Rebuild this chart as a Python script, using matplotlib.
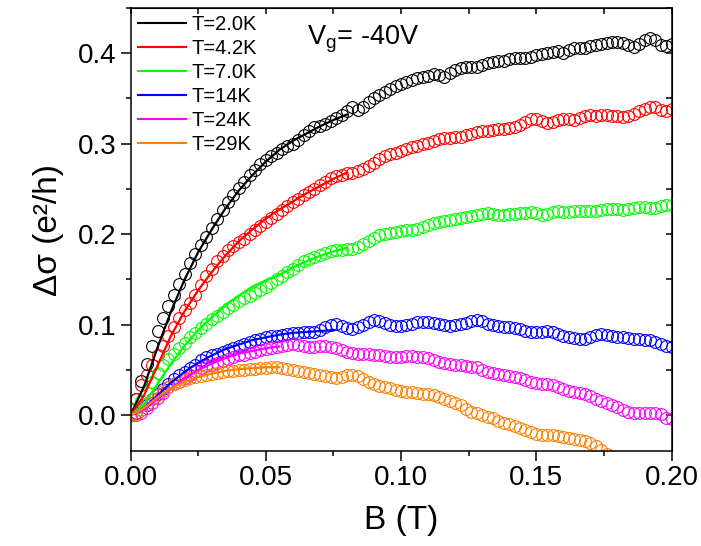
import numpy as np
import matplotlib
matplotlib.use('Agg')
import matplotlib.pyplot as plt
from matplotlib.lines import Line2D
from matplotlib.ticker import MultipleLocator, FormatStrFormatter

plt.rcParams['font.family'] = ['Liberation Sans', 'DejaVu Sans']
plt.rcParams['mathtext.default'] = 'regular'

# field grid of the measured points (T), step 0.002
B = np.round(np.arange(0, 0.2001, 0.002), 3)

labels = ['T=2.0K', 'T=4.2K', 'T=7.0K', 'T=14K', 'T=24K', 'T=29K']
colors = ['#000000', '#FF0000', '#00FF00', '#0000FF', '#FF00FF', '#FF8000']

# measured delta sigma (e^2/h)
d_2K = [0.000, 0.018, 0.038, 0.057, 0.076, 0.093, 0.107, 0.121, 0.133, 0.145,
        0.156, 0.168, 0.178, 0.188, 0.197, 0.207, 0.217, 0.227, 0.236, 0.243,
        0.251, 0.258, 0.265, 0.271, 0.277, 0.282, 0.286, 0.290, 0.294, 0.297,
        0.300, 0.304, 0.309, 0.314, 0.318, 0.319, 0.322, 0.325, 0.328, 0.332,
        0.336, 0.340, 0.337, 0.340, 0.346, 0.350, 0.354, 0.357, 0.360, 0.363,
        0.366, 0.368, 0.370, 0.372, 0.374, 0.375, 0.377, 0.376, 0.374, 0.378,
        0.381, 0.383, 0.384, 0.385, 0.384, 0.387, 0.389, 0.390, 0.391, 0.391,
        0.393, 0.394, 0.395, 0.394, 0.396, 0.398, 0.399, 0.400, 0.401, 0.402,
        0.400, 0.403, 0.405, 0.406, 0.406, 0.408, 0.409, 0.410, 0.411, 0.412,
        0.412, 0.411, 0.409, 0.407, 0.410, 0.414, 0.417, 0.414, 0.409, 0.408,
        0.410]
d_4K = [0.000, 0.018, 0.033, 0.044, 0.056, 0.067, 0.077, 0.088, 0.098, 0.107,
        0.116, 0.124, 0.133, 0.144, 0.154, 0.162, 0.170, 0.176, 0.182, 0.187,
        0.191, 0.195, 0.200, 0.204, 0.209, 0.213, 0.218, 0.222, 0.227, 0.231,
        0.235, 0.239, 0.243, 0.246, 0.250, 0.254, 0.258, 0.262, 0.264, 0.265,
        0.267, 0.268, 0.270, 0.272, 0.275, 0.279, 0.283, 0.286, 0.288, 0.290,
        0.292, 0.294, 0.296, 0.297, 0.299, 0.301, 0.303, 0.305, 0.306, 0.306,
        0.307, 0.307, 0.309, 0.311, 0.313, 0.314, 0.314, 0.315, 0.316, 0.316,
        0.317, 0.318, 0.320, 0.324, 0.327, 0.327, 0.325, 0.323, 0.324, 0.326,
        0.327, 0.327, 0.326, 0.328, 0.330, 0.331, 0.330, 0.331, 0.331, 0.330,
        0.330, 0.329, 0.330, 0.333, 0.336, 0.338, 0.340, 0.340, 0.337, 0.336,
        0.338]
d_7K = [0.000, 0.008, 0.016, 0.025, 0.037, 0.047, 0.055, 0.062, 0.068, 0.074,
        0.080, 0.086, 0.091, 0.096, 0.101, 0.106, 0.110, 0.114, 0.118, 0.122,
        0.126, 0.129, 0.132, 0.135, 0.138, 0.142, 0.146, 0.150, 0.154, 0.158,
        0.162, 0.166, 0.170, 0.172, 0.175, 0.177, 0.179, 0.181, 0.182, 0.183,
        0.184, 0.184, 0.186, 0.189, 0.192, 0.196, 0.199, 0.200, 0.201, 0.202,
        0.203, 0.204, 0.205, 0.206, 0.208, 0.210, 0.212, 0.213, 0.215, 0.216,
        0.217, 0.218, 0.219, 0.220, 0.221, 0.222, 0.223, 0.222, 0.221, 0.221,
        0.222, 0.222, 0.223, 0.223, 0.224, 0.223, 0.221, 0.222, 0.224, 0.225,
        0.224, 0.224, 0.225, 0.226, 0.226, 0.225, 0.226, 0.227, 0.228, 0.228,
        0.228, 0.227, 0.228, 0.229, 0.230, 0.230, 0.229, 0.229, 0.231, 0.232,
        0.232]
d_14K = [0.000, 0.002, 0.006, 0.011, 0.018, 0.024, 0.029, 0.035, 0.040, 0.044,
         0.048, 0.052, 0.056, 0.061, 0.064, 0.066, 0.068, 0.070, 0.072, 0.074,
         0.076, 0.079, 0.081, 0.083, 0.084, 0.086, 0.087, 0.088, 0.089, 0.090,
         0.091, 0.091, 0.092, 0.092, 0.092, 0.094, 0.097, 0.100, 0.101, 0.099,
         0.096, 0.095, 0.097, 0.100, 0.103, 0.105, 0.104, 0.102, 0.100, 0.099,
         0.099, 0.100, 0.101, 0.103, 0.103, 0.103, 0.102, 0.101, 0.100, 0.099,
         0.100, 0.101, 0.102, 0.104, 0.105, 0.104, 0.101, 0.100, 0.099, 0.098,
         0.097, 0.096, 0.095, 0.093, 0.092, 0.092, 0.092, 0.093, 0.092, 0.090,
         0.088, 0.086, 0.085, 0.084, 0.084, 0.086, 0.089, 0.090, 0.089, 0.087,
         0.086, 0.086, 0.085, 0.084, 0.084, 0.083, 0.083, 0.081, 0.079, 0.076,
         0.075]
d_24K = [0.000, 0.000, 0.003, 0.008, 0.013, 0.019, 0.025, 0.031, 0.035, 0.037,
         0.041, 0.045, 0.049, 0.052, 0.054, 0.056, 0.058, 0.060, 0.062, 0.064,
         0.066, 0.067, 0.069, 0.070, 0.072, 0.073, 0.074, 0.075, 0.077, 0.078,
         0.079, 0.078, 0.076, 0.075, 0.075, 0.076, 0.076, 0.075, 0.074, 0.072,
         0.070, 0.069, 0.068, 0.068, 0.068, 0.067, 0.066, 0.065, 0.064, 0.064,
         0.064, 0.065, 0.065, 0.064, 0.064, 0.063, 0.061, 0.059, 0.058, 0.057,
         0.056, 0.055, 0.054, 0.053, 0.053, 0.050, 0.048, 0.047, 0.046, 0.044,
         0.043, 0.042, 0.041, 0.039, 0.037, 0.036, 0.035, 0.034, 0.033, 0.031,
         0.029, 0.027, 0.026, 0.025, 0.024, 0.021, 0.018, 0.016, 0.013, 0.011,
         0.009, 0.006, 0.004, 0.003, 0.003, 0.003, 0.002, 0.002, 0.001, -0.003,
         -0.004]
d_29K = [0.000, 0.001, 0.006, 0.012, 0.018, 0.022, 0.027, 0.031, 0.034, 0.037,
         0.039, 0.041, 0.042, 0.043, 0.045, 0.046, 0.047, 0.048, 0.049, 0.049,
         0.050, 0.050, 0.051, 0.051, 0.052, 0.052, 0.053, 0.053, 0.052, 0.051,
         0.050, 0.049, 0.048, 0.047, 0.046, 0.045, 0.043, 0.042, 0.041, 0.042,
         0.044, 0.044, 0.043, 0.040, 0.037, 0.035, 0.032, 0.031, 0.030, 0.028,
         0.027, 0.026, 0.026, 0.025, 0.024, 0.024, 0.022, 0.020, 0.018, 0.016,
         0.014, 0.011, 0.007, 0.004, 0.002, 0.000, -0.002, -0.003, -0.006, -0.008,
         -0.010, -0.012, -0.014, -0.016, -0.019, -0.021, -0.022, -0.022, -0.022, -0.023,
         -0.024, -0.025, -0.026, -0.027, -0.028, -0.031, -0.034, -0.038, -0.043]

# fitted curves
B_fit = [0, 0.005, 0.01, 0.015, 0.02, 0.025, 0.03, 0.035, 0.04,
         0.045, 0.05, 0.055, 0.06, 0.065, 0.07, 0.075, 0.08]
f_2K = [0, 0.032, 0.075, 0.115, 0.150, 0.180, 0.205, 0.228, 0.248,
        0.265, 0.280, 0.293, 0.303, 0.311, 0.319, 0.326, 0.332]
f_4K = [0, 0.022, 0.055, 0.088, 0.115, 0.138, 0.158, 0.176, 0.192,
        0.205, 0.217, 0.227, 0.236, 0.245, 0.253, 0.261, 0.268]
f_7K = [0, 0.012, 0.035, 0.057, 0.077, 0.094, 0.108, 0.121, 0.132,
        0.142, 0.149, 0.155, 0.163, 0.170, 0.176, 0.181, 0.185]
f_14K = [0, 0.008, 0.022, 0.036, 0.048, 0.058, 0.066, 0.073, 0.078,
         0.083, 0.086, 0.089, 0.091, 0.092, 0.093, 0.094]
f_24K = [0, 0.006, 0.018, 0.030, 0.041, 0.050, 0.057, 0.063, 0.068,
         0.071, 0.074, 0.076]
f_29K = [0, 0.008, 0.020, 0.030, 0.037, 0.042, 0.046, 0.049, 0.051,
         0.052, 0.053, 0.053]

data = [d_2K, d_4K, d_7K, d_14K, d_24K, d_29K]
fits = [f_2K, f_4K, f_7K, f_14K, f_24K, f_29K]

fig = plt.figure(figsize=(7.01, 5.46), dpi=100)
ax = fig.add_axes([0.1862, 0.1731, 0.7718, 0.8128])

for d, c in zip(data, colors):
    ax.plot(B[:len(d)], d, 'o', mfc='none', mec=c, ms=8.5, mew=0.8)
for f, c in zip(fits, colors):
    ax.plot(B_fit[:len(f)], f, '-', color=c, lw=1.6)

ax.set_xlim(0, 0.2)
ax.set_ylim(-0.04, 0.45)
ax.xaxis.set_major_locator(MultipleLocator(0.05))
ax.xaxis.set_minor_locator(MultipleLocator(0.025))
ax.yaxis.set_major_locator(MultipleLocator(0.1))
ax.yaxis.set_minor_locator(MultipleLocator(0.05))
ax.xaxis.set_major_formatter(FormatStrFormatter('%.2f'))
ax.yaxis.set_major_formatter(FormatStrFormatter('%.1f'))
ax.tick_params(which='major', direction='out', length=7, width=1.1,
               labelsize=20, pad=3)
ax.tick_params(which='minor', direction='out', length=3.5, width=1.1)
for s in ax.spines.values():
    s.set_linewidth(1.1)

# inward ticks on top and right
top = ax.secondary_xaxis('top')
top.xaxis.set_major_locator(MultipleLocator(0.025))
top.tick_params(direction='in', length=4.5, width=1.1, labeltop=False)
right = ax.secondary_yaxis('right')
right.yaxis.set_major_locator(MultipleLocator(0.05))
right.tick_params(direction='in', length=4.5, width=1.1, labelright=False)

ax.set_xlabel('B (T)', fontsize=24, labelpad=10)
ax.set_ylabel('Δσ (e²/h)', fontsize=24, labelpad=10)

handles = [Line2D([], [], color=c, lw=1.5) for c in colors]
ax.legend(handles, labels, loc='upper left', frameon=False, fontsize=14.5,
          handlelength=2.4, handletextpad=0.3, labelspacing=0.25,
          borderaxespad=0.0, borderpad=0.35)

ax.text(0.326, 0.916, r'V$_g$= -40V', transform=ax.transAxes, fontsize=19.5)

fig.savefig('out.png', dpi=100)
